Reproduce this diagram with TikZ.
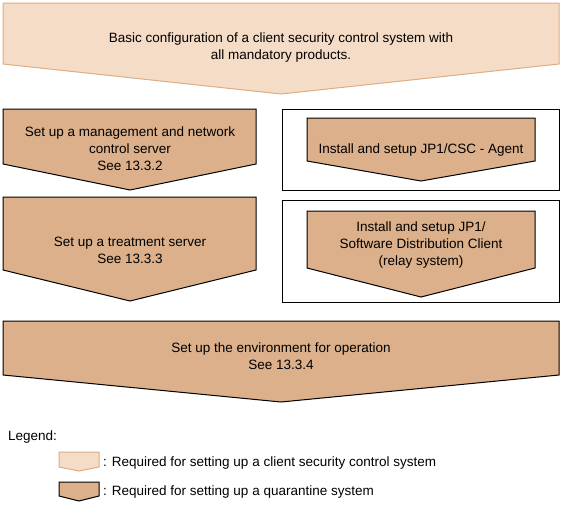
\documentclass[tikz,border=0pt]{standalone}
\usepackage{fontspec}
\setmainfont{Liberation Sans}
\usetikzlibrary{arrows, shapes}

\definecolor{peach}{HTML}{F5DCC6}
\definecolor{peachline}{HTML}{DCAE85}
\definecolor{tan}{HTML}{DBB08A}

\begin{document}
\begin{tikzpicture}[x=1pt, y=-1pt,
  lightarrow/.style={fill=peach, draw=peachline, line width=1pt},
  tanarrow/.style={fill=tan, draw=black, line width=1pt},
  framebox/.style={draw=black, line width=1pt},
  txt/.style={align=center, inner sep=0pt, font=\fontsize{13.5}{17}\selectfont}]
\useasboundingbox (0,0) rectangle (562,509);

\draw[lightarrow] (3,3) -- (559,3) -- (559,64) -- (281,94) -- (3,64) -- cycle;
\draw[tanarrow] (3,109) -- (256,109) -- (256,164) -- (130,190) -- (3,164) -- cycle;
\draw[tanarrow] (3,197) -- (256,197) -- (256,270) -- (130,301) -- (3,270) -- cycle;
\draw[framebox] (282,109) rectangle (559,190);
\draw[tanarrow] (307,118) -- (535,118) -- (535,161) -- (421,181) -- (307,161) -- cycle;
\draw[framebox] (282,200) rectangle (559,302);
\draw[tanarrow] (307,211) -- (535,211) -- (535,268) -- (421,297) -- (307,268) -- cycle;
\draw[tanarrow] (3,321) -- (559,321) -- (559,375) -- (281,402) -- (3,375) -- cycle;

\node[txt] (basic)  at (281,48)  {Basic configuration of a client security control system with\\all mandatory products.};
\node[txt] (mgr)    at (130,149) {Set up a management and network\\control server\\See 13.3.2};
\node[txt] (treat)  at (130,250) {Set up a treatment server\\See 13.3.3};
\node[txt] (agent)  at (421,150) {Install and setup JP1/CSC - Agent};
\node[txt] (relay)  at (421,245) {Install and setup JP1/\\Software Distribution Client\\(relay system)};
\node[txt] (oper)   at (281,356) {Set up the environment for operation\\See 13.3.4};

% legend
\node[txt, anchor=west] (legend) at (8,437) {Legend:};
\draw[lightarrow] (59,452) -- (99,452) -- (99,467) -- (79,471) -- (59,467) -- cycle;
\draw[tanarrow] (59,482) -- (99,482) -- (99,496) -- (79,501) -- (59,496) -- cycle;
\node[txt, anchor=west] (req1) at (103,463) {: Required for setting up a client security control system};
\node[txt, anchor=west] (req2) at (103,492) {: Required for setting up a quarantine system};
\end{tikzpicture}
\end{document}
